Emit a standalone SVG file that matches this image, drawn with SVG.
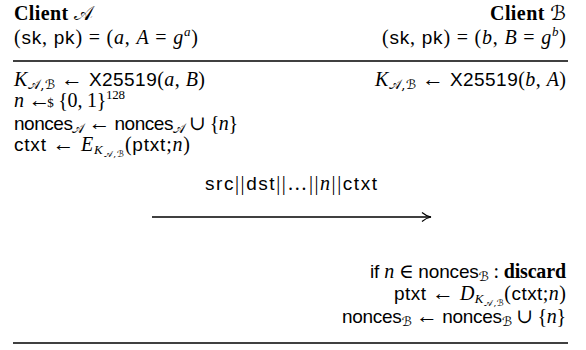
<svg xmlns="http://www.w3.org/2000/svg" width="586" height="350" viewBox="0 0 586 350">
<style>
text{font-family:"Liberation Serif","DejaVu Serif",serif;font-size:20px;fill:#000}
.it{font-style:italic}
.sf{font-family:"Liberation Sans","DejaVu Sans",sans-serif;font-size:19px}
.bf{font-weight:bold}
.cal{font-family:"DejaVu Serif","DejaVu Sans","Noto Sans",serif;font-style:normal}
.sub{font-size:13px}
.ssub{font-size:9px}
.ar{font-size:22px}
.rule{stroke:#000;stroke-width:1.6;fill:none}
.arrow{stroke:#000;stroke-width:1.3;fill:none}
</style>
<defs>
<marker id="ah" viewBox="0 0 12 12" refX="11" refY="6" markerWidth="12" markerHeight="12" markerUnits="userSpaceOnUse" orient="auto">
<path d="M2,1.5 Q6,5 11,6 Q6,7 2,10.5" fill="none" stroke="#000" stroke-width="1.2"/>
</marker>
</defs>
<g id="clientA">
<text x="14" y="20" textLength="79" lengthAdjust="spacing"><tspan class="bf">Client </tspan><tspan class="cal it">𝒜</tspan></text>
<text x="14" y="44" textLength="184" lengthAdjust="spacing">(<tspan class="sf">sk</tspan>, <tspan class="sf">pk</tspan>) = (<tspan class="it">a</tspan>, <tspan class="it">A</tspan> = <tspan class="it">g</tspan><tspan class="it sub" dy="-8">a</tspan><tspan dy="8">)</tspan></text>
<text x="14" y="86" textLength="191" lengthAdjust="spacing"><tspan class="it">K</tspan><tspan class="cal sub" dy="3">𝒜,ℬ</tspan><tspan dy="-3"> </tspan><tspan class="ar">←</tspan> <tspan class="sf">X25519</tspan>(<tspan class="it">a</tspan>, <tspan class="it">B</tspan>)</text>
<text x="14" y="107" textLength="111" lengthAdjust="spacing"><tspan class="it">n</tspan> <tspan class="ar">←</tspan><tspan class="sub" dx="-3">$</tspan> {0, 1}<tspan class="sub" dy="-8">128</tspan></text>
<text x="14" y="130" textLength="224" lengthAdjust="spacing"><tspan class="sf">nonces</tspan><tspan class="cal sub" dy="3">𝒜</tspan><tspan dy="-3"> </tspan><tspan class="ar">←</tspan> <tspan class="sf">nonces</tspan><tspan class="cal sub" dy="3">𝒜</tspan><tspan dy="-3"> ∪ {</tspan><tspan class="it">n</tspan>}</text>
<text x="14" y="151" textLength="176" lengthAdjust="spacing"><tspan class="sf">ctxt</tspan> <tspan class="ar">←</tspan> <tspan class="it">E</tspan><tspan class="it sub" dy="3">K</tspan><tspan class="cal ssub" dy="3">𝒜,ℬ</tspan><tspan dy="-6">(</tspan><tspan class="sf">ptxt</tspan>;<tspan class="it">n</tspan>)</text>
</g>
<g id="clientB">
<text x="490" y="20" textLength="76" lengthAdjust="spacing"><tspan class="bf">Client </tspan><tspan class="cal it">ℬ</tspan></text>
<text x="382" y="44" textLength="184" lengthAdjust="spacing">(<tspan class="sf">sk</tspan>, <tspan class="sf">pk</tspan>) = (<tspan class="it">b</tspan>, <tspan class="it">B</tspan> = <tspan class="it">g</tspan><tspan class="it sub" dy="-8">b</tspan><tspan dy="8">)</tspan></text>
<text x="375" y="86" textLength="191" lengthAdjust="spacing"><tspan class="it">K</tspan><tspan class="cal sub" dy="3">𝒜,ℬ</tspan><tspan dy="-3"> </tspan><tspan class="ar">←</tspan> <tspan class="sf">X25519</tspan>(<tspan class="it">b</tspan>, <tspan class="it">A</tspan>)</text>
<text x="370" y="278" textLength="196" lengthAdjust="spacing"><tspan class="sf">if </tspan><tspan class="it">n</tspan> ∈ <tspan class="sf">nonces</tspan><tspan class="cal sub" dy="3">ℬ</tspan><tspan dy="-3"> : </tspan><tspan class="bf">discard</tspan></text>
<text x="394" y="300" textLength="172" lengthAdjust="spacing"><tspan class="sf">ptxt</tspan> <tspan class="ar">←</tspan> <tspan class="it">D</tspan><tspan class="it sub" dy="3">K</tspan><tspan class="cal ssub" dy="3">𝒜,ℬ</tspan><tspan dy="-6">(</tspan><tspan class="sf">ctxt</tspan>;<tspan class="it">n</tspan>)</text>
<text x="342" y="323" textLength="224" lengthAdjust="spacing"><tspan class="sf">nonces</tspan><tspan class="cal sub" dy="3">ℬ</tspan><tspan dy="-3"> </tspan><tspan class="ar">←</tspan> <tspan class="sf">nonces</tspan><tspan class="cal sub" dy="3">ℬ</tspan><tspan dy="-3"> ∪ {</tspan><tspan class="it">n</tspan>}</text>
</g>
<g id="connectors">
<line class="rule" x1="13" y1="61" x2="568" y2="61"/>
<line class="rule" x1="13" y1="343" x2="568" y2="343"/>
<line class="arrow" x1="152" y1="217" x2="431" y2="217" marker-end="url(#ah)"/>
<text x="205" y="190" textLength="172" lengthAdjust="spacing"><tspan class="sf">src</tspan>||<tspan class="sf">dst</tspan>||…||<tspan class="it">n</tspan>||<tspan class="sf">ctxt</tspan></text>
</g>
</svg>
